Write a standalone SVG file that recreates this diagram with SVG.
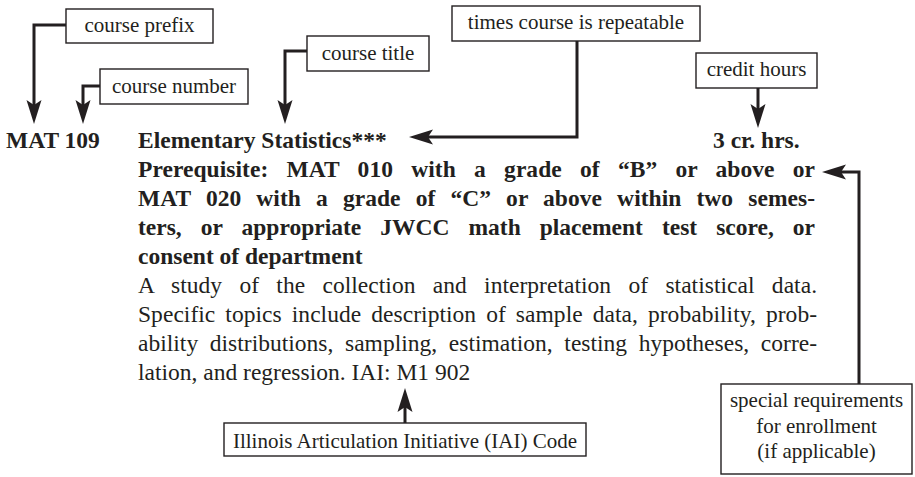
<svg xmlns="http://www.w3.org/2000/svg" width="915" height="477" viewBox="0 0 915 477">
<style>
  .box{fill:#ffffff;stroke:#231f20;stroke-width:1.4}
  .con{fill:none;stroke:#231f20;stroke-width:3;marker-end:url(#ah)}
</style>
<defs>
  <marker id="ah" markerUnits="userSpaceOnUse" markerWidth="24" markerHeight="16" viewBox="0 -8 24 16" refX="14" refY="0" orient="auto">
    <path d="M0,-7.5 L24,0 L0,7.5 L5,0 Z" fill="#231f20"/>
  </marker>
</defs>
<rect x="0" y="0" width="915" height="477" fill="#ffffff"/>

<g id="course-text" font-family="Liberation Serif, serif" font-size="23.5" fill="#231f20">
  <g font-weight="bold">
    <text x="6" y="148">MAT 109</text>
    <text x="138" y="148">Elementary Statistics***</text>
    <text x="713" y="148">3 cr. hrs.</text>
    <text x="138" y="177" word-spacing="12.3" textLength="677" lengthAdjust="spacing">Prerequisite: MAT 010 with a grade of “B” or above or</text>
    <text x="138" y="206" word-spacing="9.2" textLength="677" lengthAdjust="spacing">MAT 020 with a grade of “C” or above within two semes-</text>
    <text x="138" y="235" word-spacing="13.1" textLength="677" lengthAdjust="spacing">ters, or appropriate JWCC math placement test score, or</text>
    <text x="138" y="264">consent of department</text>
  </g>
  <text x="138" y="293" word-spacing="11.4" textLength="679" lengthAdjust="spacing">A study of the collection and interpretation of statistical data.</text>
  <text x="138" y="322" word-spacing="4.1" textLength="679" lengthAdjust="spacing">Specific topics include description of sample data, probability, prob-</text>
  <text x="138" y="351" word-spacing="5.7" textLength="679" lengthAdjust="spacing">ability distributions, sampling, estimation, testing hypotheses, corre-</text>
  <text x="138" y="380">lation, and regression. IAI: M1 902</text>
</g>

<g id="labels" font-family="Liberation Serif, serif" font-size="21" fill="#231f20" text-anchor="middle">
  <g id="course-prefix">
    <rect class="box" x="66" y="9" width="147" height="34"/>
    <text x="139.5" y="32">course prefix</text>
  </g>
  <g id="course-number">
    <rect class="box" x="100" y="69" width="148" height="35"/>
    <text x="174" y="93">course number</text>
  </g>
  <g id="course-title">
    <rect class="box" x="307" y="36" width="122" height="35"/>
    <text x="368" y="60">course title</text>
  </g>
  <g id="times-repeatable">
    <rect class="box" x="452" y="6" width="248" height="35"/>
    <text x="576" y="29">times course is repeatable</text>
  </g>
  <g id="credit-hours">
    <rect class="box" x="696" y="53" width="121" height="35"/>
    <text x="756.5" y="76">credit hours</text>
  </g>
  <g id="iai-code">
    <rect class="box" x="224" y="423" width="362" height="33"/>
    <text x="405" y="448">Illinois Articulation Initiative (IAI) Code</text>
  </g>
  <g id="special-requirements">
    <rect class="box" x="721" y="384" width="191" height="90"/>
    <text x="816.5" y="407">special requirements</text>
    <text x="816.5" y="433">for enrollment</text>
    <text x="816.5" y="458">(if applicable)</text>
  </g>
</g>

<g id="connectors">
  <path class="con" d="M66,25 H34 V114"/>
  <path class="con" d="M100,86 H83 V114"/>
  <path class="con" d="M307,51 H285 V114"/>
  <path class="con" d="M577,41 V137 H419"/>
  <path class="con" d="M758,88 V118"/>
  <path class="con" d="M859,384 V172 H832"/>
  <path class="con" d="M405,423 V398"/>
</g>
</svg>
